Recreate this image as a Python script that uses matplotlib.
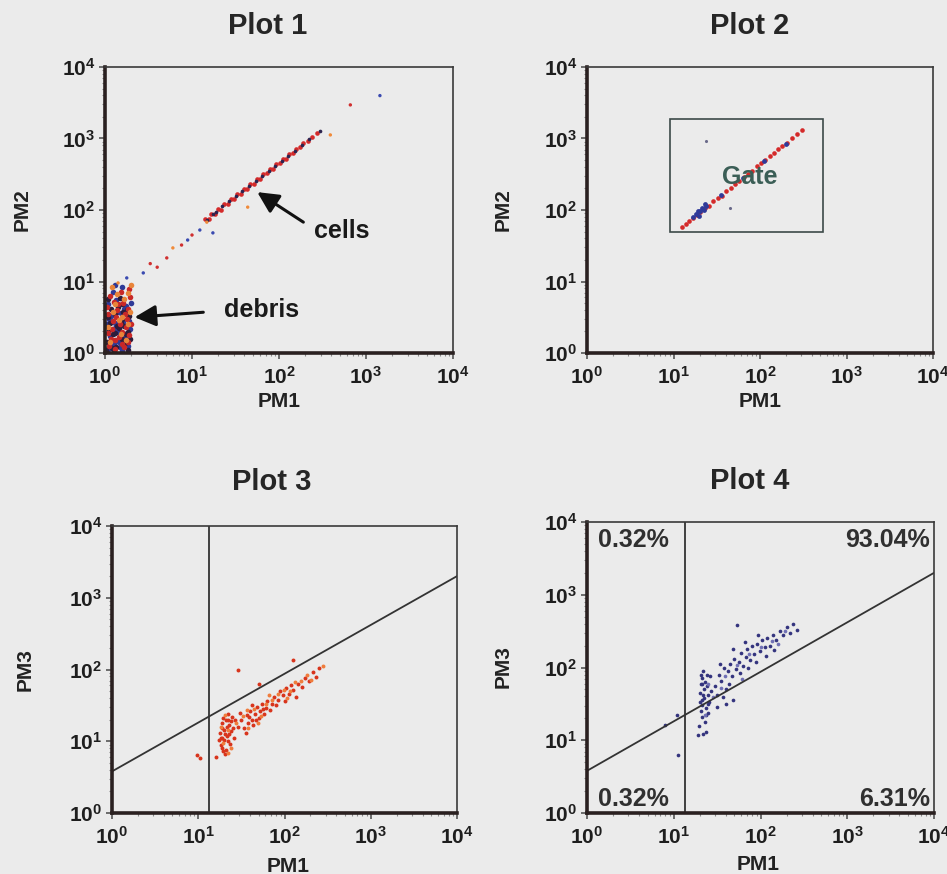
import numpy as np
import matplotlib
matplotlib.use("Agg")
from matplotlib import pyplot as plt
from matplotlib.patches import Rectangle

plt.rcParams['font.family'] = ['Liberation Sans', 'DejaVu Sans']
plt.rcParams['font.weight'] = 'bold'
plt.rcParams['mathtext.fontset'] = 'custom'
plt.rcParams['mathtext.rm'] = 'Liberation Sans:bold'
plt.rcParams['mathtext.it'] = 'Liberation Sans:bold'
plt.rcParams['mathtext.bf'] = 'Liberation Sans:bold'

# ---- data (log10 of PM channel values) ----
EXPONENTS = [0, 1, 2, 3, 4]
TITLES = ['Plot 1', 'Plot 2', 'Plot 3', 'Plot 4']
YLABELS = ['PM2', 'PM2', 'PM3', 'PM3']

# plot 1: debris block
debris_red = [(0.05, 0.10), (0.12, 0.18), (0.22, 0.08), (0.28, 0.25), (0.08, 0.33), (0.17, 0.40),
              (0.25, 0.47), (0.04, 0.55), (0.14, 0.60), (0.27, 0.62), (0.10, 0.72), (0.21, 0.70),
              (0.06, 0.80), (0.18, 0.85), (0.29, 0.78), (0.03, 0.28), (0.20, 0.30), (0.11, 0.05),
              (0.26, 0.15), (0.16, 0.22), (0.09, 0.45), (0.23, 0.55), (0.13, 0.50), (0.02, 0.65),
              (0.30, 0.40), (0.19, 0.12), (0.07, 0.20), (0.24, 0.36), (0.15, 0.68), (0.28, 0.90)]
debris_blue = [(0.03, 0.05), (0.10, 0.12), (0.19, 0.04), (0.27, 0.10), (0.06, 0.24), (0.15, 0.30),
               (0.23, 0.22), (0.29, 0.33), (0.02, 0.40), (0.12, 0.42), (0.21, 0.44), (0.07, 0.52),
               (0.18, 0.56), (0.26, 0.54), (0.04, 0.68), (0.13, 0.74), (0.24, 0.66), (0.09, 0.86),
               (0.20, 0.92), (0.16, 0.15), (0.25, 0.28), (0.08, 0.14), (0.14, 0.58), (0.30, 0.70),
               (0.11, 0.35), (0.22, 0.62), (0.05, 0.47), (0.17, 0.08), (0.28, 0.45), (0.12, 0.95)]
debris_orange = [(0.06, 0.16), (0.18, 0.27), (0.26, 0.40), (0.09, 0.58), (0.22, 0.76), (0.14, 0.82),
                 (0.29, 0.58), (0.04, 0.36), (0.20, 0.50), (0.12, 0.68), (0.27, 0.84), (0.16, 0.46),
                 (0.08, 0.93), (0.24, 0.18), (0.30, 0.95)]
debris_dark = [(0.02, 0.15), (0.09, 0.26), (0.16, 0.35), (0.23, 0.14), (0.29, 0.20), (0.05, 0.32),
               (0.13, 0.09), (0.20, 0.20), (0.27, 0.30), (0.03, 0.50), (0.11, 0.55), (0.19, 0.48),
               (0.25, 0.60), (0.07, 0.62), (0.15, 0.65), (0.22, 0.38), (0.01, 0.04), (0.10, 0.02),
               (0.18, 0.42), (0.26, 0.04), (0.04, 0.75), (0.17, 0.77), (0.12, 0.28), (0.28, 0.52),
               (0.06, 0.42), (0.14, 0.38), (0.21, 0.58), (0.08, 0.07), (0.24, 0.26), (0.19, 0.68)]

# plot 1: cells on the diagonal
cells_red_x = [1.15, 1.19, 1.22, 1.26, 1.30, 1.33, 1.37, 1.41, 1.45, 1.48, 1.52, 1.56, 1.60, 1.63, 1.67,
               1.71, 1.75, 1.78, 1.82, 1.86, 1.90, 1.93, 1.97, 2.01, 2.05, 2.08, 2.12, 2.16, 2.20, 2.24,
               2.28, 2.33, 2.38, 2.44]
cells_red_y = [1.87, 1.88, 1.95, 1.94, 2.01, 2.00, 2.08, 2.09, 2.15, 2.15, 2.22, 2.23, 2.29, 2.29, 2.37,
               2.37, 2.43, 2.43, 2.51, 2.52, 2.58, 2.57, 2.65, 2.66, 2.72, 2.72, 2.78, 2.80, 2.86, 2.88,
               2.94, 2.97, 3.02, 3.08]
cells_dark_x = [1.17, 1.24, 1.28, 1.35, 1.43, 1.50, 1.58, 1.65, 1.73, 1.80, 1.88, 1.95, 2.03, 2.10,
                2.18, 2.26, 2.35, 2.47]
cells_dark_y = [1.86, 1.95, 1.97, 2.05, 2.12, 2.19, 2.26, 2.33, 2.41, 2.47, 2.55, 2.61, 2.69, 2.75,
                2.83, 2.91, 2.99, 3.10]
sparse1 = [(0.60, 1.20), (0.44, 1.12), (0.78, 1.47), (0.88, 1.51), (1.09, 1.72), (1.17, 1.83),
           (0.71, 1.33), (0.25, 1.05), (0.15, 0.98), (1.00, 1.65), (1.24, 1.68), (1.64, 2.04),
           (2.82, 3.47), (3.16, 3.60), (2.59, 3.05), (0.52, 1.25), (0.95, 1.58)]

# plot 2: gated cells
gate_x = [9.1, 537]
gate_y = [49, 1870]
gated_red_x = [1.10, 1.14, 1.18, 1.22, 1.27, 1.31, 1.36, 1.41, 1.46, 1.51, 1.56, 1.61, 1.66, 1.71,
               1.76, 1.81, 1.86, 1.91, 1.96, 2.01, 2.06, 2.11, 2.16, 2.21, 2.26, 2.31, 2.37, 2.43, 2.49]
gated_red_y = [1.76, 1.81, 1.84, 1.89, 1.93, 1.97, 2.03, 2.06, 2.12, 2.17, 2.20, 2.27, 2.31, 2.36,
               2.41, 2.46, 2.51, 2.55, 2.61, 2.66, 2.70, 2.75, 2.80, 2.85, 2.90, 2.94, 3.00, 3.06, 3.12]
gated_blue_x = [1.22, 1.26, 1.28, 1.31, 1.33, 1.35, 1.38, 1.30, 1.36, 1.55, 1.80, 2.05, 2.30]
gated_blue_y = [1.90, 1.94, 1.99, 1.98, 2.03, 2.00, 2.05, 1.92, 2.08, 2.21, 2.45, 2.69, 2.93]
sparse2 = [(1.38, 2.96), (1.65, 2.03)]

# plots 3 and 4: gating lines
diag_x = [1, 1e4]
diag_y = [3.8, 2000]
vgate_x = 13.5

# plot 3: red / orange cloud
p3_red = [(1.26, 0.95), (1.28, 1.05), (1.30, 1.15), (1.27, 1.25), (1.32, 0.88), (1.34, 1.00),
          (1.33, 1.20), (1.36, 1.10), (1.29, 1.32), (1.38, 1.28), (1.31, 0.82), (1.35, 1.38),
          (1.40, 1.18), (1.25, 1.12), (1.37, 0.96), (1.30, 1.02), (1.33, 1.08), (1.28, 1.18),
          (1.36, 1.22), (1.32, 1.30), (1.27, 0.90), (1.41, 1.05), (1.24, 1.02), (1.39, 1.34),
          (1.46, 1.20), (1.50, 1.30), (1.53, 1.18), (1.56, 1.36), (1.58, 1.25), (1.60, 1.42),
          (1.62, 1.30), (1.64, 1.22), (1.66, 1.38), (1.68, 1.48), (1.70, 1.32), (1.72, 1.42),
          (1.74, 1.52), (1.76, 1.38), (1.78, 1.46), (1.80, 1.56), (1.83, 1.44), (1.85, 1.52),
          (1.48, 1.40), (1.55, 1.12), (1.62, 1.50), (1.88, 1.62), (1.90, 1.50), (1.93, 1.58),
          (1.95, 1.70), (1.98, 1.64), (2.00, 1.56), (2.02, 1.74), (2.05, 1.66), (2.07, 1.78),
          (2.10, 1.72), (2.13, 1.62), (2.16, 1.80), (2.20, 1.76), (2.24, 1.88), (2.28, 1.84),
          (2.33, 1.96), (2.40, 2.02), (2.36, 1.90), (0.99, 0.81), (1.02, 0.76), (1.46, 1.99),
          (2.10, 2.13), (1.70, 1.80), (1.20, 0.78), (1.29, 0.86), (1.35, 1.30), (1.31, 1.10),
          (1.38, 1.14), (1.26, 1.05), (1.43, 1.30), (1.59, 1.34), (1.67, 1.30), (1.75, 1.45)]
p3_orange = [(1.29, 0.98), (1.35, 1.15), (1.26, 1.20), (1.31, 1.36), (1.38, 0.90), (1.44, 1.25),
             (1.52, 1.35), (1.58, 1.18), (1.65, 1.45), (1.73, 1.35), (1.79, 1.52), (1.86, 1.58),
             (1.92, 1.66), (1.99, 1.72), (2.06, 1.70), (2.12, 1.82), (2.19, 1.84), (2.26, 1.92),
             (2.31, 1.86), (2.45, 2.05), (1.56, 1.44), (1.69, 1.26), (1.82, 1.64), (2.03, 1.60),
             (1.34, 0.84)]

# plot 4: stained cells
p4_navy = [(1.31, 1.40), (1.33, 1.55), (1.35, 1.70), (1.32, 1.85), (1.37, 1.45), (1.39, 1.62),
           (1.36, 1.80), (1.34, 1.95), (1.41, 1.52), (1.38, 1.75), (1.30, 1.65), (1.42, 1.88),
           (1.33, 1.32), (1.36, 1.25), (1.40, 1.38), (1.31, 1.78), (1.35, 1.58), (1.38, 1.90),
           (1.32, 1.48), (1.43, 1.68), (1.29, 1.20), (1.37, 1.12), (1.34, 1.08),
           (1.30, 1.52), (1.34, 1.62), (1.37, 1.35), (1.33, 1.78), (1.39, 1.50), (1.31, 1.90),
           (1.48, 1.75), (1.52, 1.90), (1.55, 1.82), (1.58, 2.00), (1.60, 1.70), (1.62, 1.95),
           (1.65, 2.05), (1.67, 1.88), (1.70, 2.12), (1.72, 1.98), (1.75, 2.08), (1.78, 2.20),
           (1.80, 2.02), (1.83, 2.15), (1.85, 2.25), (1.88, 2.10), (1.90, 2.30), (1.93, 2.18),
           (1.96, 2.32), (1.99, 2.22), (2.02, 2.38), (2.05, 2.28), (2.08, 2.40), (2.11, 2.30),
           (2.14, 2.45), (2.18, 2.38), (2.22, 2.50), (2.26, 2.44), (2.30, 2.55), (2.34, 2.48),
           (2.38, 2.60), (1.50, 1.62), (1.57, 1.60), (1.64, 1.78), (1.76, 1.92), (1.86, 2.00),
           (1.95, 2.08), (2.06, 2.16), (2.16, 2.24), (1.53, 2.05), (1.68, 2.25), (1.82, 2.35),
           (1.97, 2.45), (1.73, 2.58), (1.50, 1.46), (1.68, 1.55), (1.04, 1.35), (0.90, 1.21),
           (1.05, 0.80), (1.28, 1.07), (1.60, 1.50), (2.42, 2.52)]
p4_purple = [(1.36, 1.35), (1.45, 1.60), (1.59, 1.88), (1.73, 2.04), (1.87, 2.18), (2.00, 2.28),
             (2.13, 2.36), (2.28, 2.50), (1.40, 1.78), (1.54, 1.72), (1.79, 1.84), (2.20, 2.32)]
QUADRANT_PCT = ['0.32%', '93.04%', '0.32%', '6.31%']

# ---- layout helpers (pixel positions of the 947x874 page) ----
W, H = 947, 874
BG = '#ebebeb'


def fx(px):
    return px / W


def fy(py):
    return 1 - py / H


def axes_px(left, top, right, bottom):
    return [fx(left), fy(bottom), (right - left) / W, (bottom - top) / H]


def log_pts(pairs):
    arr = np.array(pairs)
    return 10 ** arr[:, 0], 10 ** arr[:, 1]


def style_axes(ax):
    ax.set_facecolor(BG)
    ax.set_xscale('log')
    ax.set_yscale('log')
    ax.set_xlim(1, 1e4)
    ax.set_ylim(1, 1e4)
    ticks = [10.0 ** e for e in EXPONENTS]
    labels = ['$10^{%d}$' % e for e in EXPONENTS]
    ax.set_xticks(ticks)
    ax.set_xticklabels(labels)
    ax.set_yticks(ticks)
    ax.set_yticklabels(labels)
    ax.xaxis.set_minor_locator(matplotlib.ticker.LogLocator(base=10, subs=np.arange(2, 10)))
    ax.yaxis.set_minor_locator(matplotlib.ticker.LogLocator(base=10, subs=np.arange(2, 10)))
    ax.xaxis.set_minor_formatter(matplotlib.ticker.NullFormatter())
    ax.yaxis.set_minor_formatter(matplotlib.ticker.NullFormatter())
    ax.tick_params(which='major', direction='out', length=4, width=1.2, colors='#555',
                   labelsize=15, labelcolor='#1e1e1e')
    ax.tick_params(axis='x', which='major', pad=5)
    ax.tick_params(axis='y', which='major', pad=3)
    ax.tick_params(which='minor', direction='out', length=2.5, width=0.8, colors='#888')
    for side in ['left', 'bottom']:
        ax.spines[side].set_linewidth(2.6)
        ax.spines[side].set_color('#2a2020')
    for side in ['top', 'right']:
        ax.spines[side].set_linewidth(1.2)
        ax.spines[side].set_color('#3a3a3a')


fig = plt.figure(figsize=(W / 100, H / 100), dpi=100, facecolor=BG)

ax1 = fig.add_axes(axes_px(105, 67, 453, 353))
ax2 = fig.add_axes(axes_px(587, 67, 933, 353))
ax3 = fig.add_axes(axes_px(112, 526, 457, 813))
ax4 = fig.add_axes(axes_px(587, 522, 934, 813))
axes = [ax1, ax2, ax3, ax4]
for ax in axes:
    style_axes(ax)

# titles and axis labels placed at the page positions
title_pos = [(268, 26), (750, 26), (272, 482), (750, 481)]
xlabel_pos = [(279, 402), (760, 402), (288, 866), (758, 865)]
ylabel_pos = [(22, 210), (503, 210), (25, 670), (503, 667)]
for i in range(4):
    fig.text(fx(title_pos[i][0]), fy(title_pos[i][1]), TITLES[i], fontsize=21,
             fontweight='bold', color='#262626', ha='center', va='center')
    fig.text(fx(xlabel_pos[i][0]), fy(xlabel_pos[i][1]), 'PM1', fontsize=15,
             fontweight='bold', color='#222', ha='center', va='center')
    fig.text(fx(ylabel_pos[i][0]), fy(ylabel_pos[i][1]), YLABELS[i], fontsize=15,
             fontweight='bold', color='#222', ha='center', va='center', rotation=90)

# ---- plot 1 ----
for pts, col in [(debris_blue, '#2e3a98'), (debris_dark, '#2c1d3c'),
                 (debris_red, '#c82828'), (debris_orange, '#e8843a')]:
    x, y = log_pts(pts)
    ax1.scatter(x, y, s=16, color=col, linewidths=0, clip_on=True)
ax1.scatter(10 ** np.array(cells_red_x), 10 ** np.array(cells_red_y), s=11, color='#d42a2a', linewidths=0)
ax1.scatter(10 ** np.array(cells_dark_x), 10 ** np.array(cells_dark_y), s=7, color='#2c2450', linewidths=0)
x, y = log_pts(sparse1)
ax1.scatter(x, y, s=6, color=['#d03030', '#3a4ab0', '#f08a3a'] * 5 + ['#d03030', '#3a4ab0'], linewidths=0)

arrow = dict(arrowstyle='-|>', color='#111', lw=2.2, mutation_scale=32, shrinkA=0, shrinkB=0)
ax1.annotate('', xy=(10 ** 1.75, 10 ** 2.25), xytext=(10 ** 2.28, 10 ** 1.83), arrowprops=arrow)
ax1.text(10 ** 2.72, 10 ** 1.71, 'cells', fontsize=18, fontweight='bold', color='#1a1a1a',
         ha='center', va='center')
ax1.annotate('', xy=(10 ** 0.34, 10 ** 0.50), xytext=(10 ** 1.13, 10 ** 0.57), arrowprops=arrow)
ax1.text(10 ** 1.80, 10 ** 0.60, 'debris', fontsize=18, fontweight='bold', color='#1a1a1a',
         ha='center', va='center')

# ---- plot 2 ----
ax2.add_patch(Rectangle((gate_x[0], gate_y[0]), gate_x[1] - gate_x[0], gate_y[1] - gate_y[0],
                        fill=False, edgecolor='#3c4a48', lw=1.2))
ax2.scatter(10 ** np.array(gated_red_x), 10 ** np.array(gated_red_y), s=11, color='#d42a2a', linewidths=0)
ax2.scatter(10 ** np.array(gated_blue_x), 10 ** np.array(gated_blue_y), s=12, color='#2f3a9a', linewidths=0)
x, y = log_pts(sparse2)
ax2.scatter(x, y, s=5, color='#6a6a8a', linewidths=0)
ax2.text(10 ** 1.88, 10 ** 2.46, 'Gate', fontsize=18, fontweight='bold', color='#3b5e56',
         ha='center', va='center')

# ---- plots 3 and 4: gate lines ----
for ax in [ax3, ax4]:
    ax.plot(diag_x, diag_y, color='#333', lw=1.3)
    ax.axvline(vgate_x, color='#333', lw=1.3)

x, y = log_pts(p3_red)
ax3.scatter(x, y, s=8, color='#d8341c', linewidths=0)
x, y = log_pts(p3_orange)
ax3.scatter(x, y, s=8, color='#f07c3c', linewidths=0)

x, y = log_pts(p4_navy)
ax4.scatter(x, y, s=7, color='#34347e', linewidths=0)
x, y = log_pts(p4_purple)
ax4.scatter(x, y, s=7, color='#7070b4', linewidths=0)

pct_pos = [(0.032, 0.938, 'left'), (0.988, 0.938, 'right'), (0.032, 0.048, 'left'), (0.988, 0.048, 'right')]
for (px, py, ha), label in zip(pct_pos, QUADRANT_PCT):
    ax4.text(px, py, label, transform=ax4.transAxes, fontsize=18, fontweight='bold',
             color='#303030', ha=ha, va='center')

fig.savefig('out.png', dpi=100, facecolor=BG)
